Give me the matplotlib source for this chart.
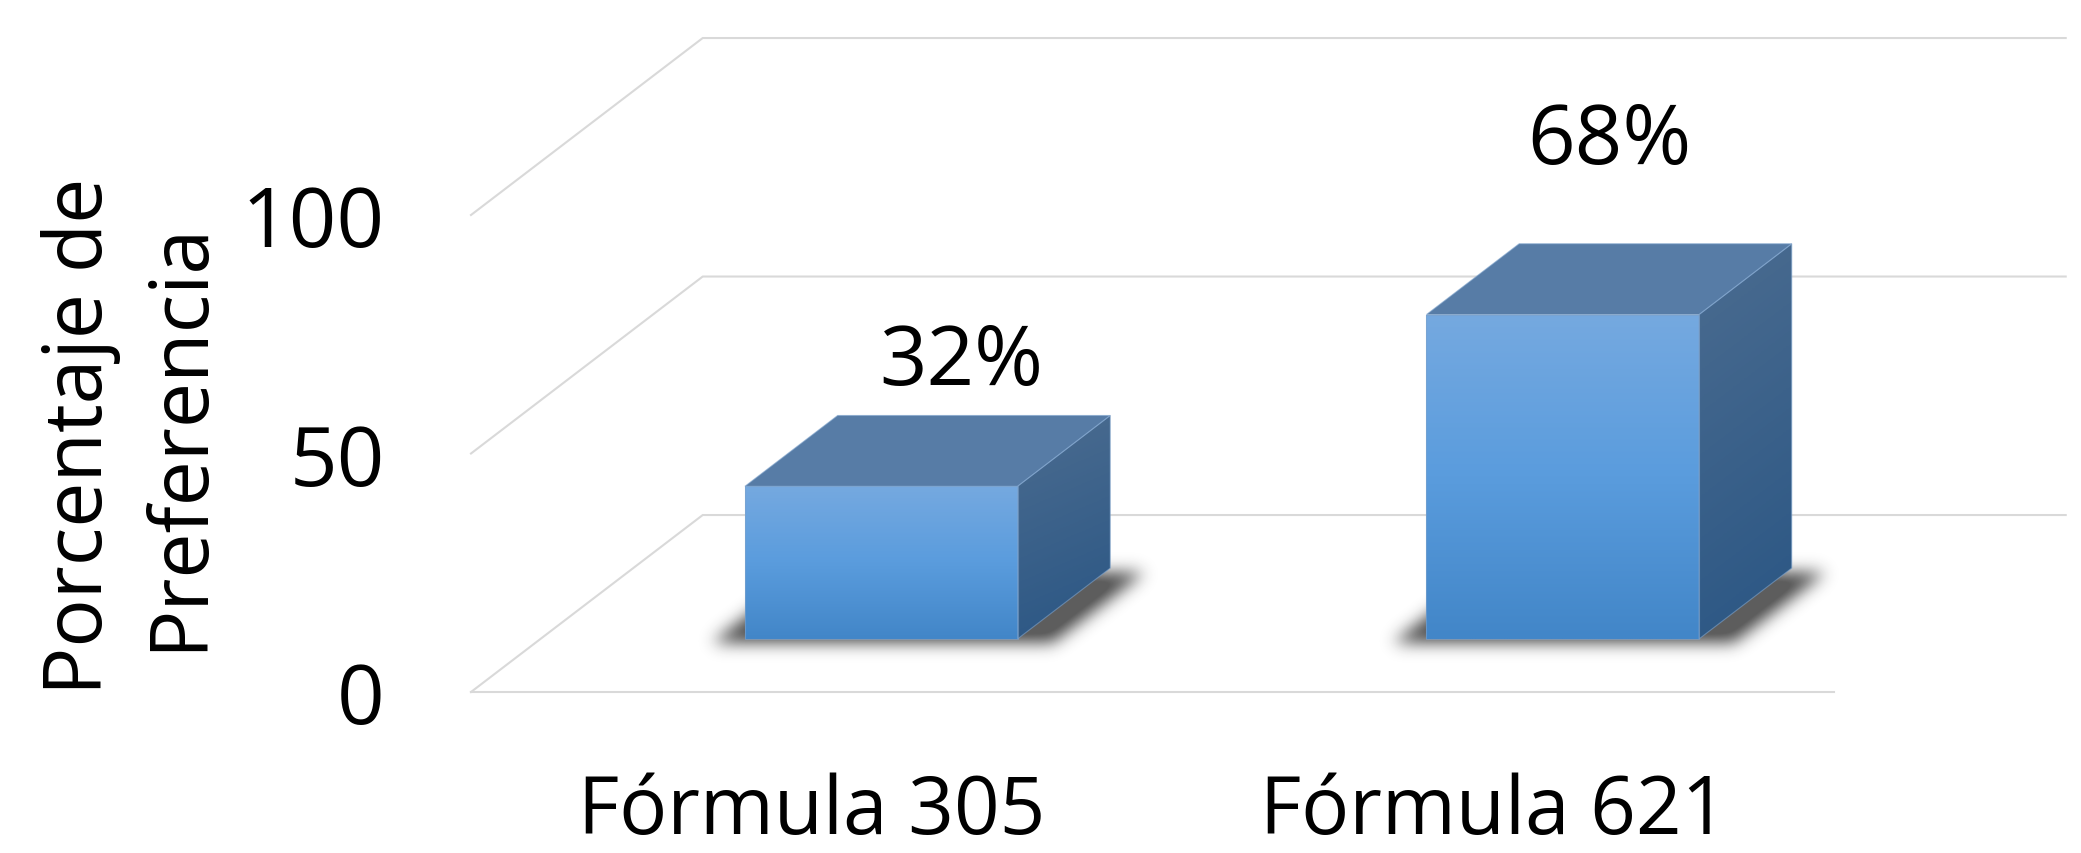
import numpy as np
import matplotlib
matplotlib.use('Agg')
import matplotlib.pyplot as plt
from matplotlib.patches import Polygon
from matplotlib.colors import LinearSegmentedColormap

plt.rcParams['font.family'] = ['Open Sans', 'DejaVu Sans']

# datos
categorias = ['Fórmula 305', 'Fórmula 621']
porcentajes = [32, 68]
marcas_y = [0, 50, 100]

# geometria de la vista oblicua (unidades de categoria / de valor)
DX, DY = 0.34, 37.1          # vector de profundidad del suelo
ANCHO = 0.4                  # ancho de barra dentro de la categoria
FONDO = (0.3, 0.7)           # tramo de profundidad ocupado por la barra
# desplazamiento de las etiquetas de datos respecto al centro de la tapa
desp_etiqueta = [(0.05, 14.0), (0.0, 24.4)]

# escala en pixeles
FIG_W, FIG_H = 2081, 854
IZQ, SUELO = 471, 693
PX_CAT, PX_VAL = 681.5, 4.77

FRENTE = ['#75A9E0', '#5A9CDD', '#4286C8']
TAPA = '#577CA6'
LADO = ['#4B6C90', '#2A5684']
BORDE = '#7EA3CC'
GRIS = '#D9D9D9'
FS = 60


def P(x, y, d):
    return (x + d * DX, y + d * DY)


def relleno(ax, pts, colores, t, extent, z):
    patch = Polygon(pts, closed=True, facecolor='none', edgecolor='none')
    ax.add_patch(patch)
    cmap = LinearSegmentedColormap.from_list('g', colores)
    im = ax.imshow(t, cmap=cmap, vmin=0, vmax=1, extent=extent, origin='upper',
                   aspect='auto', interpolation='bilinear', zorder=z)
    im.set_clip_path(patch)


def difuminar(a, s):
    r = int(3 * s)
    k = np.exp(-0.5 * (np.arange(-r, r + 1) / s) ** 2)
    k /= k.sum()
    a = np.apply_along_axis(lambda m: np.convolve(m, k, mode='same'), 0, a)
    a = np.apply_along_axis(lambda m: np.convolve(m, k, mode='same'), 1, a)
    return a


def sombra(ax, xl, xr, z):
    d0, d1 = FONDO
    ex, baja = 0.05, 1.0
    x0, x1 = xl + d0 * DX - 0.15, xr + d1 * DX + 0.15
    y0, y1 = d0 * DY - 8, d1 * DY + 8
    nx = int((x1 - x0) * PX_CAT)
    ny = int((y1 - y0) * PX_VAL)
    X, Y = np.meshgrid(np.linspace(x0, x1, nx), np.linspace(y0, y1, ny))
    d = (Y + baja) / DY
    xb = X - d * DX
    m = ((d >= d0) & (d <= d1) & (xb >= xl - ex) & (xb <= xr + ex)).astype(float)
    m = difuminar(m, 8)
    rgba = np.zeros((ny, nx, 4))
    rgba[..., :3] = 0.12
    rgba[..., 3] = np.clip(m * 1.15, 0, 1) * 0.72
    ax.imshow(rgba, extent=(x0, x1, y0, y1), origin='lower', aspect='auto',
              interpolation='bilinear', zorder=z)


fig = plt.figure(figsize=(FIG_W / 100, FIG_H / 100), dpi=100)
ax = fig.add_axes([IZQ / FIG_W, (FIG_H - SUELO) / FIG_H,
                   (FIG_W - IZQ) / FIG_W, SUELO / FIG_H])
xmax = (FIG_W - IZQ) / PX_CAT
ymax = SUELO / PX_VAL
n = len(categorias)

# paredes y suelo
for v in marcas_y:
    ax.plot([0, DX, n + DX], [v, v + DY, v + DY], color=GRIS, lw=1.5,
            zorder=1, clip_on=False)
ax.plot([0, n], [0, 0], color=GRIS, lw=1.5, zorder=1, clip_on=False)

d0, d1 = FONDO
for i, v in enumerate(porcentajes):
    c = i + 0.5
    xl, xr = c - ANCHO / 2, c + ANCHO / 2
    sombra(ax, xl, xr, 2)

    frente = [P(xl, 0, d0), P(xr, 0, d0), P(xr, v, d0), P(xl, v, d0)]
    tapa = [P(xl, v, d0), P(xr, v, d0), P(xr, v, d1), P(xl, v, d1)]
    lado = [P(xr, 0, d0), P(xr, 0, d1), P(xr, v, d1), P(xr, v, d0)]

    t = np.linspace(0, 1, 200).reshape(-1, 1)
    relleno(ax, frente, FRENTE, t,
            (xl + d0 * DX, xr + d0 * DX, d0 * DY, v + d0 * DY), 4)

    gy, gx = np.mgrid[0:1:200j, 0:1:60j]
    relleno(ax, lado, LADO, 0.85 * gy + 0.15 * gx,
            (xr + d0 * DX, xr + d1 * DX, d0 * DY, v + d1 * DY), 3)

    ax.add_patch(Polygon(tapa, closed=True, facecolor=TAPA, edgecolor='none',
                         zorder=3))
    for pts in (frente, tapa, lado):
        ax.add_patch(Polygon(pts, closed=True, facecolor='none',
                             edgecolor=BORDE, lw=0.8, alpha=0.6, zorder=5))

    cx, cy = P(c, v, 0.5)
    ox, oy = desp_etiqueta[i]
    ax.text(cx + ox, cy + oy, f'{v}%', fontsize=FS, ha='center',
            va='baseline', zorder=6)

ax.set_xlim(0, xmax)
ax.set_ylim(0, ymax)
ax.set_xticks([i + 0.5 for i in range(n)])
ax.set_xticklabels(categorias, fontsize=57.5)
ax.set_yticks(marcas_y)
ax.set_yticklabels([str(v) for v in marcas_y], fontsize=FS)
ax.tick_params(axis='both', length=0)
ax.tick_params(axis='y', pad=62)
ax.tick_params(axis='x', pad=57)
for s in ax.spines.values():
    s.set_visible(False)

fig.text(130 / FIG_W, 1 - 436 / FIG_H, 'Porcentaje de\nPreferencia',
         fontsize=58, rotation=90, ha='center', va='center',
         multialignment='center', linespacing=1.3)

fig.savefig('out.png', dpi=100)
